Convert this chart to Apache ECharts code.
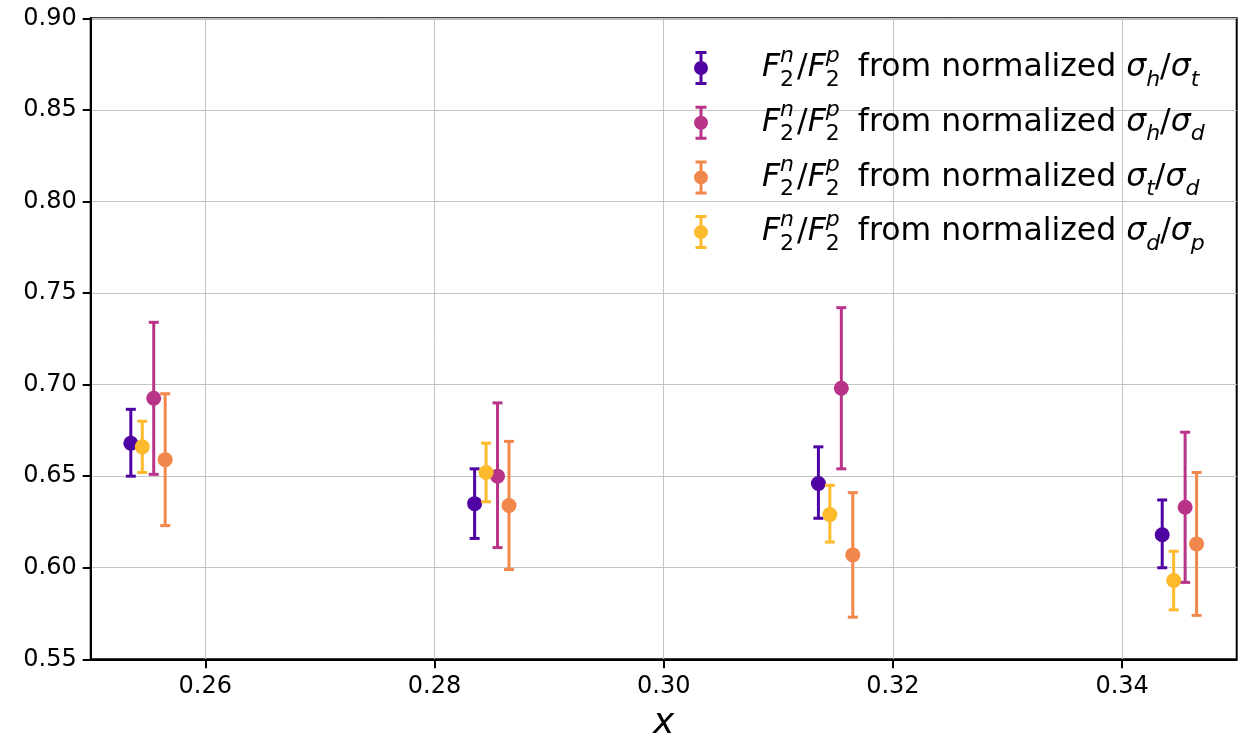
<!DOCTYPE html>
<html>
<head>
<meta charset="utf-8">
<script src="https://cdn.jsdelivr.net/npm/echarts@6/dist/echarts.min.js"></script>
<style>html,body{margin:0;padding:0;background:#fff}#chart{width:1239px;height:735px}</style>
</head>
<body>
<div id="chart"></div>
<script>
// ---- data ----
const xTicks = [0.26, 0.28, 0.30, 0.32, 0.34];
const yTicks = [0.55, 0.60, 0.65, 0.70, 0.75, 0.80, 0.85, 0.90];

const seriesNames = ['h/t', 'h/d', 't/d', 'd/p'];
const numSub = ['h', 'h', 't', 'd'];
const denSub = ['t', 'd', 'd', 'p'];
const seriesColors = ['#4f03a2', '#b93389', '#f2874c', '#fdba2c'];

// sigma_h / sigma_t
const x_ht = [0.2535, 0.2835, 0.3135, 0.3435];
const y_ht = [0.668, 0.635, 0.646, 0.618];
const lo_ht = [0.650, 0.616, 0.627, 0.600];
const hi_ht = [0.6865, 0.654, 0.666, 0.637];
// sigma_h / sigma_d
const x_hd = [0.2555, 0.2855, 0.3155, 0.3455];
const y_hd = [0.6925, 0.650, 0.698, 0.633];
const lo_hd = [0.651, 0.611, 0.654, 0.592];
const hi_hd = [0.734, 0.690, 0.742, 0.674];
// sigma_t / sigma_d
const x_td = [0.2565, 0.2865, 0.3165, 0.3465];
const y_td = [0.659, 0.634, 0.607, 0.613];
const lo_td = [0.623, 0.599, 0.573, 0.574];
const hi_td = [0.695, 0.669, 0.641, 0.652];
// sigma_d / sigma_p
const x_dp = [0.2545, 0.2845, 0.3145, 0.3445];
const y_dp = [0.666, 0.652, 0.629, 0.593];
const lo_dp = [0.652, 0.636, 0.614, 0.577];
const hi_dp = [0.680, 0.668, 0.645, 0.609];

const allX = [x_ht, x_hd, x_td, x_dp];
const allY = [y_ht, y_hd, y_td, y_dp];
const allLo = [lo_ht, lo_hd, lo_td, lo_dp];
const allHi = [hi_ht, hi_hd, hi_td, hi_dp];

// ---- chart ----
const FONT = 'DejaVu Sans';
const chart = echarts.init(document.getElementById('chart'), null, {renderer: 'canvas'});

function renderErr(params, api) {
  const x = api.value(0), y = api.value(1), lo = api.value(2), hi = api.value(3);
  const p = api.coord([x, y]);
  const pl = api.coord([x, lo]);
  const ph = api.coord([x, hi]);
  const color = api.visual('color');
  const cap = 5;
  return {
    type: 'group',
    children: [
      {type: 'line', shape: {x1: p[0], y1: ph[1], x2: p[0], y2: pl[1]}, style: {stroke: color, lineWidth: 3}},
      {type: 'line', shape: {x1: p[0] - cap, y1: ph[1], x2: p[0] + cap, y2: ph[1]}, style: {stroke: color, lineWidth: 3}},
      {type: 'line', shape: {x1: p[0] - cap, y1: pl[1], x2: p[0] + cap, y2: pl[1]}, style: {stroke: color, lineWidth: 3}},
      {type: 'circle', shape: {cx: p[0], cy: p[1], r: 7.5}, style: {fill: color}}
    ]
  };
}

const series = seriesNames.map((name, i) => ({
  name: name,
  type: 'custom',
  renderItem: renderErr,
  itemStyle: {color: seriesColors[i]},
  encode: {x: 0, y: 1},
  clip: false,
  z: 3,
  data: allX[i].map((x, j) => [x, allY[i][j], allLo[i][j], allHi[i][j]])
}));

const iconPath = 'path://M1.5,0 L12.5,0 L12.5,3 L1.5,3 Z M5.5,0 L8.5,0 L8.5,34 L5.5,34 Z M1.5,31 L12.5,31 L12.5,34 L1.5,34 Z M0,17 A7,7 0 1,1 14,17 A7,7 0 1,1 0,17 Z';

function legendLabel(name) {
  const i = seriesNames.indexOf(name);
  return '{sp| }{it|F}{sup0|n}{sub2|2}{n|/}{it|F}{sup0|p}{sub2|2}{sp2| }{n|from normalized }{it|σ}{sub|' +
    numSub[i] + '}{n|/}{it|σ}{sub|' + denSub[i] + '}';
}

const option = {
  animation: false,
  backgroundColor: '#ffffff',
  grid: {
    left: 90.7, right: 2.3, top: 18.3, bottom: 75.7,
    outerBoundsMode: 'none',
    containLabel: false,
    show: true, borderColor: '#000', borderWidth: 2, backgroundColor: 'transparent'
  },
  legend: {
    orient: 'vertical',
    left: 694, top: 45,
    padding: 0,
    itemGap: 8.7,
    itemWidth: 14, itemHeight: 34,
    data: seriesNames.map(n => ({name: n, icon: iconPath})),
    formatter: legendLabel,
    textStyle: {
      fontFamily: FONT, fontSize: 31.5, color: '#000',
      rich: {
        sp: {width: 49, fontSize: 31.5, lineHeight: 46},
        sp2: {width: 15, fontSize: 31.5, lineHeight: 46},
        n: {fontFamily: FONT, fontSize: 31.5, lineHeight: 46, color: '#000'},
        it: {fontFamily: FONT, fontSize: 31.5, fontStyle: 'italic', lineHeight: 46, color: '#000'},
        sup0: {fontFamily: FONT, fontSize: 22, fontStyle: 'italic', lineHeight: 26, verticalAlign: 'top', width: 0, color: '#000'},
        sub2: {fontFamily: FONT, fontSize: 22, lineHeight: 38.8, verticalAlign: 'bottom', padding: [0, 3, 0, 0], color: '#000'},
        sub: {fontFamily: FONT, fontSize: 22, fontStyle: 'italic', lineHeight: 35.4, verticalAlign: 'bottom', color: '#000'}
      }
    }
  },
  xAxis: {
    type: 'value',
    min: 0.25, max: 0.35,
    name: 'x',
    nameLocation: 'middle',
    nameGap: 46,
    nameTextStyle: {fontFamily: FONT, fontSize: 36, fontStyle: 'italic', color: '#000'},
    axisLine: {show: true, onZero: false, lineStyle: {color: '#000', width: 2}},
    axisTick: {show: true, customValues: xTicks, length: 9, lineStyle: {color: '#000', width: 2}},
    axisLabel: {customValues: xTicks, fontFamily: FONT, fontSize: 24, color: '#000', margin: 15,
      formatter: v => v.toFixed(2)},
    splitLine: {show: true, lineStyle: {color: '#c4c4c4', width: 1}}
  },
  yAxis: {
    type: 'value',
    min: 0.55, max: 0.90, interval: 0.05,
    axisLine: {show: true, lineStyle: {color: '#000', width: 2}},
    axisTick: {show: true, length: 8, lineStyle: {color: '#000', width: 2}},
    axisLabel: {fontFamily: FONT, fontSize: 24, color: '#000', margin: 14,
      formatter: v => v.toFixed(2)},
    splitLine: {show: true, lineStyle: {color: '#c4c4c4', width: 1}}
  },
  series: series
};
chart.setOption(option);
</script>
</body>
</html>
